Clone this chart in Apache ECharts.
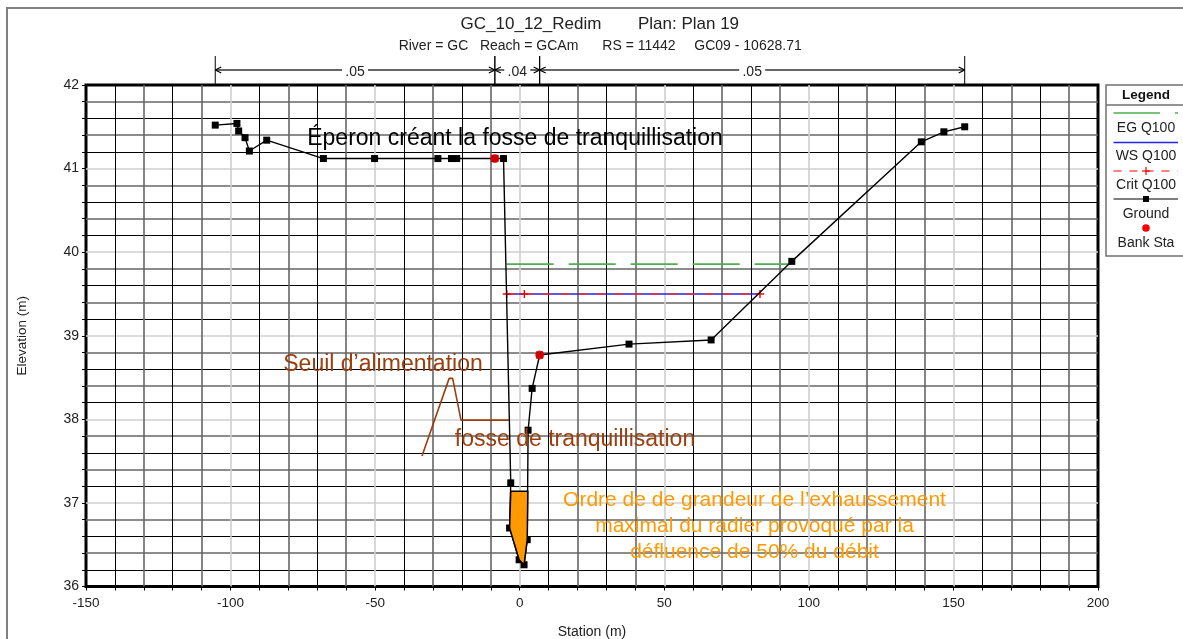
<!DOCTYPE html>
<html><head><meta charset="utf-8">
<style>html,body{margin:0;padding:0;background:#fff}#c{width:1183px;height:639px}</style>
<script src="https://cdn.jsdelivr.net/npm/echarts@6/dist/echarts.min.js"></script>
</head><body><div id="c"></div>
<script>
const FONT = '"Liberation Sans",Arial,sans-serif';
const groundX = [-105.3,-97.8,-97.2,-95.0,-93.5,-87.5,-67.9,-50.2,-28.3,-23.6,-21.8,-8.6,-5.6,-3.1,-3.5,-0.2,1.5,2.6,2.9,4.3,6.9,37.8,66.2,94.1,138.9,146.7,153.9];
const groundY = [41.52,41.54,41.45,41.37,41.21,41.34,41.12,41.12,41.12,41.12,41.12,41.12,41.12,37.24,36.70,36.32,36.26,36.56,37.87,38.37,38.77,38.90,38.95,39.89,41.32,41.44,41.50];
const bankX = [-8.6,6.9];
const bankY = [41.12,38.77];
const egX = [-4.5,94.1];
const egY = [39.857,39.857];
const wsX = [-4.5,83.1];
const wsY = [39.50,39.50];
const critX = [-4.5,1.6,83.1];
const critY = [39.50,39.50,39.50];
const fillX = [-3.1,-3.5,-0.2,1.5,2.6,2.8];
const fillY = [37.14,36.70,36.32,36.26,36.56,37.14];
const calloutX = [-33.8,-24.4,-23.2,-20.3,-3.8];
const calloutY = [37.56,38.49,38.49,37.99,37.99];
const nBreaks = [-105.3,-8.6,6.9,153.9];
const nLabels = ['.05','.04','.05'];
const legendLabels = ['EG Q100','WS Q100','Crit Q100','Ground','Bank Sta'];
const zip = (a,b)=>a.map((v,i)=>[v,b[i]]);
const BROWN = '#9C3F0F', ORANGE = '#FF9900', GREEN = '#4CAF50';

const xAxisBase = {type:'value',min:-150,max:200,interval:10};
const yAxisBase = {type:'value',min:36,max:42,interval:0.2};
const BLK5 = ['#000','transparent','#000','transparent','transparent'];
const GRY5 = ['transparent','#666666','transparent','#666666','#cfcfcf'];

const txt = (text,x,y,size,fill,extra)=>({type:'text',z:50,style:Object.assign({text,x,y,fill,font:size+'px '+FONT,textAlign:'center',textVerticalAlign:'middle'},extra||{})});
const seg = (x1,y1,x2,y2,stroke,w,dash)=>({type:'line',z:50,shape:{x1,y1,x2,y2},style:{stroke,lineWidth:w,lineDash:dash||null}});

const LL=1113.5, LR=1178, LC=1146;
const graphics = [
  {type:'rect',z:0,shape:{x:7,y:8,width:1400,height:900},style:{fill:'none',stroke:'#808080',lineWidth:2}},
  {type:'rect',z:40,shape:{x:1106,y:85,width:140,height:171},style:{fill:'#fff',stroke:'#707070',lineWidth:1.5}},
  seg(1106,105,1183,105,'#707070',1.5),
  txt('Legend',LC,95.5,13.5,'#111',{font:'bold 13.5px '+FONT}),
  seg(LL,113,1160,113,GREEN,1.5), seg(1175,113,LR,113,GREEN,1.5),
  txt(legendLabels[0],LC,128,14,'#222'),
  seg(LL,142.5,LR,142.5,'#2222ee',1.5),
  txt(legendLabels[1],LC,156,14,'#222'),
  seg(LL,171,LR,171,'#ff3030',1.2,[8,8]),
  seg(LC-4,171,LC+4,171,'#ff0000',1.2), seg(LC,167,LC,175,'#ff0000',1.2),
  txt(legendLabels[2],LC,185,14,'#222'),
  seg(LL,199,LR,199,'#000',1.2),
  {type:'rect',z:50,shape:{x:LC-3,y:196,width:6,height:6},style:{fill:'#000'}},
  txt(legendLabels[3],LC,214,14,'#222'),
  {type:'circle',z:50,shape:{cx:LC,cy:228,r:3.8},style:{fill:'#ff0000'}},
  txt(legendLabels[4],LC,243,14,'#222'),
  txt('GC_10_12_Redim',531,24,17,'#222'),
  txt('Plan: Plan 19',688.5,24,17,'#222'),
  txt('River = GC   Reach = GCAm',488.5,46,14,'#222'),
  txt('RS = 11442',639,46,14,'#222'),
  txt('GC09 - 10628.71',748,46,14,'#222'),
  txt('Éperon créant la fosse de tranquillisation',515,139,23,'#000'),
  txt('Seuil d’alimentation',383,365,23,BROWN),
  txt('fosse de tranquillisation',575,440,23,BROWN),
  txt('Ordre de de grandeur de l’exhaussement',754.5,500,21,ORANGE),
  txt('maximal du radier provoqué par la',754.5,526,21,ORANGE),
  txt('défluence de 50% du débit',754.5,552,21,ORANGE)
];

const nData = nLabels.map((l,i)=>[nBreaks[i],nBreaks[i+1],l]);
function renderN(params,api){
  const a = api.coord([api.value(0),42]), b = api.coord([api.value(1),42]);
  const top=a[1], y=top-15, mid=(a[0]+b[0])/2, gap=13;
  const ln=(x1,y1,x2,y2,c,w)=>({type:'line',shape:{x1,y1,x2,y2},style:{stroke:c,lineWidth:w}});
  return {type:'group',children:[
    ln(a[0],top-29,a[0],top,'#000',1), ln(b[0],top-29,b[0],top,'#000',1),
    ln(a[0],y,mid-gap,y,'#666',2), ln(mid+gap,y,b[0],y,'#666',2),
    ln(a[0],y,a[0]+6,y-3,'#000',1.2), ln(a[0],y,a[0]+6,y+3,'#000',1.2),
    ln(b[0],y,b[0]-6,y-3,'#000',1.2), ln(b[0],y,b[0]-6,y+3,'#000',1.2),
    {type:'text',style:{text:nLabels[params.dataIndex],x:mid,y:y+2.5,fill:'#222',font:'14px '+FONT,textAlign:'center',textVerticalAlign:'middle'}}
  ]};
}
function renderFill(params,api){
  return {type:'polygon',shape:{points:fillX.map((x,i)=>api.coord([x,fillY[i]]))},
    style:{fill:'#FF9900',stroke:'#000',lineWidth:1.5}};
}

const option = {
  animation:false,
  backgroundColor:'#fff',
  textStyle:{fontFamily:FONT},
  grid:{left:86,top:85,width:1012,height:501.5,show:true,borderColor:'#000',borderWidth:3,backgroundColor:'transparent',containLabel:false,outerBoundsMode:'none'},
  graphic:graphics,
  xAxis:[
    Object.assign({},xAxisBase,{name:'Station (m)',nameLocation:'middle',nameGap:39,
      nameTextStyle:{fontSize:14,color:'#222',fontFamily:FONT},
      axisLine:{show:false,onZero:false},
      axisTick:{show:true,length:4,lineStyle:{color:'#000',width:1}},
      axisLabel:{margin:10,fontSize:13.5,color:'#222',fontFamily:FONT,hideOverlap:false,showMinLabel:true,showMaxLabel:true,
        formatter:v=>(Math.abs(v%50)<1e-6?String(v):'')},
      splitLine:{show:true,showMinLine:false,showMaxLine:false,lineStyle:{color:BLK5,width:1}}}),
    Object.assign({},xAxisBase,{position:'bottom',axisLine:{show:false,onZero:false},axisTick:{show:false},axisLabel:{show:false},
      splitLine:{show:true,showMinLine:false,showMaxLine:false,lineStyle:{color:GRY5,width:1.6}}})
  ],
  yAxis:[
    Object.assign({},yAxisBase,{name:'Elevation (m)',nameLocation:'middle',nameGap:57,
      nameTextStyle:{fontSize:13.5,color:'#222',fontFamily:FONT},
      axisLine:{show:false,onZero:false},
      axisTick:{show:true,length:4,lineStyle:{color:'#000',width:1}},
      axisLabel:{margin:7,fontSize:14,color:'#222',fontFamily:FONT,hideOverlap:false,showMinLabel:true,showMaxLabel:true,
        formatter:v=>(Math.abs(v-Math.round(v))<1e-6?String(Math.round(v)):'')},
      splitLine:{show:true,showMinLine:false,showMaxLine:false,lineStyle:{color:BLK5,width:1}}}),
    Object.assign({},yAxisBase,{position:'left',axisLine:{show:false,onZero:false},axisTick:{show:false},axisLabel:{show:false},
      splitLine:{show:true,showMinLine:false,showMaxLine:false,lineStyle:{color:GRY5,width:1.6}}})
  ],
  series:[
    {name:'n values',type:'custom',renderItem:renderN,data:nData,encode:{x:[0,1]},clip:false,z:5,silent:true},
    {name:'Seuil callout',type:'line',data:zip(calloutX,calloutY),symbol:'none',lineStyle:{color:BROWN,width:1.6},z:6},
    {name:'EG Q100',type:'line',data:zip(egX,egY),symbol:'none',lineStyle:{color:GREEN,width:1.6,type:[47,15]},z:7},
    {name:'WS Q100',type:'line',data:zip(wsX,wsY),symbol:'none',lineStyle:{color:'#2020ee',width:1.6},z:7},
    {name:'Crit Q100',type:'line',data:zip(critX,critY),symbol:'path://M0 5H10M5 0V10',symbolSize:8,showSymbol:true,
      lineStyle:{color:'#f03030',width:1.6,type:[9,9]},itemStyle:{color:'none',borderColor:'#ff0000',borderWidth:1.4},z:8},
    {name:'Ground',type:'line',data:zip(groundX,groundY),symbol:'rect',symbolSize:7,showSymbol:true,showAllSymbol:true,
      lineStyle:{color:'#000',width:1.4},itemStyle:{color:'#000'},z:9},
    {name:'Raised bed',type:'custom',renderItem:renderFill,data:[[fillX[0],fillY[0]]],z:10,silent:true},
    {name:'Bank Sta',type:'scatter',data:zip(bankX,bankY),symbol:'circle',symbolSize:9,itemStyle:{color:'#ff0000'},z:11}
  ]
};
echarts.init(document.getElementById('c'),null,{renderer:'canvas'}).setOption(option);
</script></body></html>
